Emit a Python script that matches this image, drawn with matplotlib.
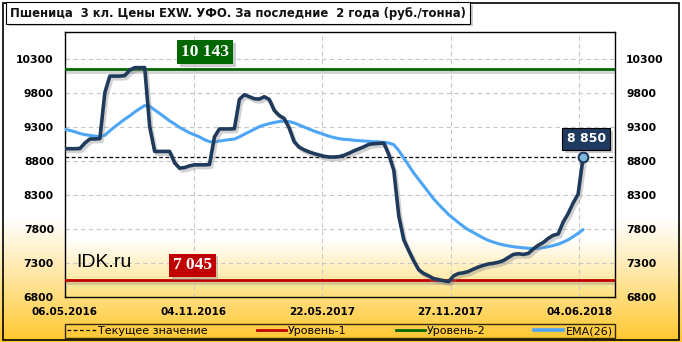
import numpy as np
import matplotlib
matplotlib.use("Agg")
import matplotlib.pyplot as plt
import matplotlib.patheffects as pe
from matplotlib.lines import Line2D
from matplotlib.patches import Rectangle

# данные (недельные точки)
price = [8977, 8977, 8977, 8980, 9060, 9120, 9120, 9125, 9800, 10043,
         10043, 10043, 10050, 10130, 10167, 10167, 10167, 9300, 8937, 8937,
         8937, 8937, 8770, 8692, 8700, 8725, 8740, 8740, 8740, 8745,
         9150, 9267, 9267, 9267, 9270, 9700, 9770, 9740, 9710, 9705,
         9740, 9700, 9540, 9465, 9420, 9280, 9080, 9000, 8960, 8930,
         8905, 8885, 8865, 8855, 8855, 8860, 8880, 8910, 8945, 8975,
         9005, 9040, 9050, 9055, 9060, 8890, 8660, 7990, 7640, 7480,
         7330, 7200, 7145, 7110, 7070, 7055, 7040, 7025, 7110, 7145,
         7155, 7175, 7210, 7240, 7265, 7285, 7295, 7310, 7335, 7380,
         7425, 7435, 7425, 7440, 7505, 7560, 7600, 7660, 7705, 7725,
         7900, 8025, 8180, 8310, 8850]

ema = [9260, 9245, 9225, 9200, 9183, 9172, 9162, 9152, 9175, 9240,
       9300, 9355, 9410, 9460, 9515, 9565, 9610, 9600, 9545, 9495,
       9440, 9385, 9340, 9290, 9250, 9210, 9180, 9150, 9110, 9080,
       9075, 9090, 9100, 9110, 9118, 9150, 9190, 9225, 9262, 9300,
       9325, 9345, 9362, 9375, 9380, 9375, 9355, 9325, 9295, 9265,
       9235, 9210, 9185, 9160, 9140, 9125, 9115, 9110, 9100, 9095,
       9090, 9085, 9080, 9077, 9070, 9060, 9036, 8950, 8840, 8730,
       8620, 8525, 8430, 8335, 8240, 8160, 8085, 8010, 7950, 7890,
       7835, 7785, 7745, 7705, 7665, 7630, 7605, 7582, 7565, 7550,
       7538, 7530, 7522, 7515, 7512, 7515, 7525, 7538, 7555, 7575,
       7605, 7640, 7685, 7735, 7790]

date_labels = ["06.05.2016", "04.11.2016", "22.05.2017", "27.11.2017", "04.06.2018"]
level1 = 7045
level2 = 10143
current = 8850
yticks = [6800, 7300, 7800, 8300, 8800, 9300, 9800, 10300]

title = "Пшеница  3 кл. Цены EXW. УФО. За последние  2 года (руб./тонна)"

W, H = 682, 342
fig = plt.figure(figsize=(W / 100, H / 100), dpi=100)

# фон рисунка: белый сверху, жёлтый снизу
bg = fig.add_axes([0, 0, 1, 1], zorder=-10)
rows = np.arange(H)
t = np.clip((rows - 215) / (H - 215), 0, 1) ** 1.1
top_c = np.array([1.0, 1.0, 1.0])
bot_c = np.array([1.0, 0.78, 0.17])
grad = (top_c[None, :] * (1 - t[:, None]) + bot_c[None, :] * t[:, None])[:, None, :]
bg.imshow(grad, aspect="auto", extent=[0, 1, 0, 1])
bg.set_axis_off()

# рамка
fig.patches.append(Rectangle((3 / W, 1 - 340 / H), 676 / W, 337 / H,
                             transform=fig.transFigure, fill=False,
                             ec="black", lw=1.2, zorder=1))

ax = fig.add_axes([65 / W, 1 - 297 / H, (615 - 65) / W, (297 - 32) / H])
x = np.arange(len(price))
step = 25.8
xmax = 110.4
ymin, ymax = 6800, 10690
ax.set_xlim(0, xmax)
ax.set_ylim(ymin, ymax)

# градиент внутри области построения
pt = np.linspace(0, 1, 300)
ty = np.clip((pt - 0.78) / 0.22, 0, 1)
inner = (np.array([1, 1, 1])[None, :] * (1 - ty[:, None])
         + np.array([1.0, 0.88, 0.5])[None, :] * ty[:, None])[:, None, :]
ax.imshow(inner, aspect="auto", extent=[0, xmax, ymin, ymax], zorder=0)

ax.grid(True, color="#c8c8c8", ls=(0, (4, 3)), lw=0.8)
ax.set_axisbelow(True)

shadow = [pe.SimpleLineShadow(offset=(1.5, -2), shadow_color="gray", alpha=0.35), pe.Normal()]

ax.axhline(level2, color="#006600", lw=2, path_effects=shadow, zorder=3)
ax.axhline(level1, color="#c00000", lw=2, path_effects=shadow, zorder=3)
ax.axhline(current, color="black", lw=0.9, ls=(0, (3, 2)), zorder=3)

ax.plot(x, ema, color="#4da6f5", lw=2.2, solid_capstyle="round", zorder=4)
ax.plot(x, price, color="#203a5c", lw=2.6, solid_joinstyle="round",
        solid_capstyle="round", path_effects=shadow, zorder=5)
ax.plot(x[-1], price[-1], "o", ms=7, mfc="#7fb8dc", mec="#203a5c", mew=1.5, zorder=6)

ax.set_xticks([step * k for k in range(len(date_labels))])
ax.set_xticklabels(date_labels, fontsize=7.5, fontweight="bold")
ax.set_yticks(yticks)
ax.set_yticklabels([str(v) for v in yticks], fontsize=7.8, fontweight="bold")
ax.tick_params(axis="y", length=0, pad=8, right=True, labelright=True)
ax.tick_params(axis="x", length=0, pad=7)
for s in ax.spines.values():
    s.set_linewidth(1.0)
    s.set_color("black")

# подписи уровней
box_fx = [pe.withSimplePatchShadow(offset=(2, -2), shadow_rgbFace="gray", alpha=0.4)]
t2 = ax.text(step * 1.09, level2 + 250, f"{level2:,}".replace(",", " "),
             color="white", fontsize=12.5, fontweight="bold", family="Liberation Serif",
             ha="center", va="center",
             bbox=dict(boxstyle="square,pad=0.22", fc="#006600", ec="none"))
t1 = ax.text(step * 0.99, level1 + 220, f"{level1:,}".replace(",", " "),
             color="white", fontsize=12.5, fontweight="bold", family="Liberation Serif",
             ha="center", va="center",
             bbox=dict(boxstyle="square,pad=0.22", fc="#c00000", ec="none"))
t3 = ax.text(x[-1] + 0.6, current + 270, f"{current:,}".replace(",", " "),
             color="white", fontsize=9, fontweight="bold",
             ha="center", va="center",
             bbox=dict(boxstyle="square,pad=0.35", fc="#1f3a5f", ec="black", lw=0.8))
for tt in (t1, t2, t3):
    tt.get_bbox_patch().set_path_effects(box_fx)

ax.text(0.02, 0.115, "IDK.ru", transform=ax.transAxes, fontsize=14,
        family="Liberation Sans", color="black", zorder=7)

# заголовок
tt = fig.text(10 / W, 1 - 13 / H, title, fontsize=8.35, fontweight="bold",
              va="center", ha="left", color="#111111",
              bbox=dict(boxstyle="square,pad=0.35", fc="white", ec="black", lw=0.8))
tt.get_bbox_patch().set_path_effects(box_fx)

# легенда
handles = [
    Line2D([], [], color="black", lw=0.9, ls=(0, (3, 2))),
    Line2D([], [], color="#c00000", lw=2),
    Line2D([], [], color="#006600", lw=2),
    Line2D([], [], color="#4da6f5", lw=2.6),
]
names = ["Текущее значение", "Уровень-1", "Уровень-2", "EMA(26)"]
leg = fig.legend(handles, names, ncol=4, loc="center",
                 bbox_to_anchor=(340 / W, 1 - 331 / H), fontsize=8,
                 frameon=True, fancybox=False, edgecolor="black",
                 handlelength=2.6, handletextpad=0.2, columnspacing=4.4,
                 borderpad=0.2, borderaxespad=0)
leg.get_frame().set_facecolor("none")
leg.get_frame().set_linewidth(1.0)

fig.savefig("out.png", dpi=100)
